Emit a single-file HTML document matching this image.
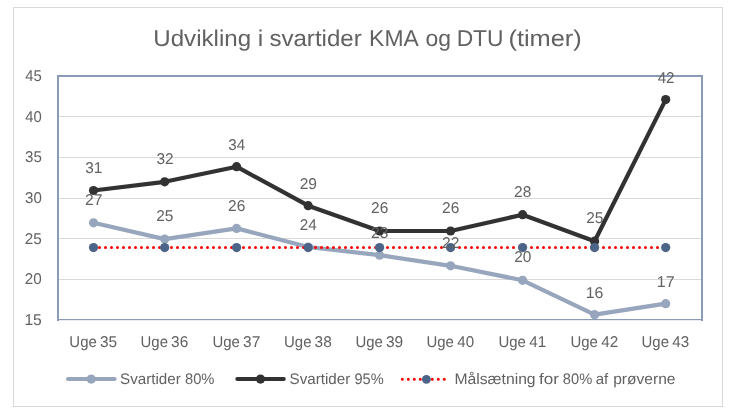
<!DOCTYPE html>
<html><head><meta charset="utf-8"><title>Udvikling i svartider</title>
<style>
html,body{margin:0;padding:0;background:#fff;}
svg{display:block;font-family:"Liberation Sans",sans-serif;}
text{fill:#626262;text-rendering:geometricPrecision;}
</style></head><body>
<svg width="735" height="418" viewBox="0 0 735 418">
<rect x="0" y="0" width="735" height="418" fill="#fff"/>
<rect x="13.5" y="7.5" width="709" height="399" fill="none" stroke="#d9d9d9" stroke-width="1"/>

<line x1="59" y1="116.5" x2="701" y2="116.5" stroke="#d9d9d9" stroke-width="1"/>
<line x1="59" y1="157.5" x2="701" y2="157.5" stroke="#d9d9d9" stroke-width="1"/>
<line x1="59" y1="198.5" x2="701" y2="198.5" stroke="#d9d9d9" stroke-width="1"/>
<line x1="59" y1="238.5" x2="701" y2="238.5" stroke="#d9d9d9" stroke-width="1"/>
<line x1="59" y1="279.5" x2="701" y2="279.5" stroke="#d9d9d9" stroke-width="1"/>
<rect x="57" y="75" width="646" height="2" fill="#8a9cb5"/>
<rect x="57" y="75" width="2" height="246" fill="#8a9cb5"/>
<rect x="701" y="75" width="2" height="246" fill="#8a9cb5"/>
<rect x="57" y="319" width="646" height="1.2" fill="#8a9cb5"/>
<text x="25.27" y="81.10" font-size="15.6" textLength="16.54" lengthAdjust="spacingAndGlyphs">45</text>
<text x="25.27" y="121.70" font-size="15.6" textLength="16.49" lengthAdjust="spacingAndGlyphs">40</text>
<text x="25.03" y="162.30" font-size="15.6" textLength="16.80" lengthAdjust="spacingAndGlyphs">35</text>
<text x="25.03" y="202.90" font-size="15.6" textLength="16.75" lengthAdjust="spacingAndGlyphs">30</text>
<text x="24.84" y="243.50" font-size="15.6" textLength="17.00" lengthAdjust="spacingAndGlyphs">25</text>
<text x="24.84" y="284.10" font-size="15.6" textLength="16.95" lengthAdjust="spacingAndGlyphs">20</text>
<text x="24.41" y="324.70" font-size="15.6" textLength="17.44" lengthAdjust="spacingAndGlyphs">15</text>
<text x="69.35" y="347.40" font-size="15.6" textLength="27.42" lengthAdjust="spacingAndGlyphs">Uge</text>
<text x="99.92" y="347.40" font-size="15.6" textLength="17.12" lengthAdjust="spacingAndGlyphs">35</text>
<text x="140.55" y="347.40" font-size="15.6" textLength="27.42" lengthAdjust="spacingAndGlyphs">Uge</text>
<text x="171.11" y="347.40" font-size="15.6" textLength="17.15" lengthAdjust="spacingAndGlyphs">36</text>
<text x="212.45" y="347.40" font-size="15.6" textLength="27.42" lengthAdjust="spacingAndGlyphs">Uge</text>
<text x="243.01" y="347.40" font-size="15.6" textLength="17.27" lengthAdjust="spacingAndGlyphs">37</text>
<text x="284.05" y="347.40" font-size="15.6" textLength="27.42" lengthAdjust="spacingAndGlyphs">Uge</text>
<text x="314.61" y="347.40" font-size="15.6" textLength="17.15" lengthAdjust="spacingAndGlyphs">38</text>
<text x="355.45" y="347.40" font-size="15.6" textLength="27.42" lengthAdjust="spacingAndGlyphs">Uge</text>
<text x="386.01" y="347.40" font-size="15.6" textLength="17.22" lengthAdjust="spacingAndGlyphs">39</text>
<text x="426.45" y="347.40" font-size="15.6" textLength="27.42" lengthAdjust="spacingAndGlyphs">Uge</text>
<text x="457.27" y="347.40" font-size="15.6" textLength="16.81" lengthAdjust="spacingAndGlyphs">40</text>
<text x="498.45" y="347.40" font-size="15.6" textLength="27.42" lengthAdjust="spacingAndGlyphs">Uge</text>
<text x="529.26" y="347.40" font-size="15.6" textLength="16.97" lengthAdjust="spacingAndGlyphs">41</text>
<text x="570.45" y="347.40" font-size="15.6" textLength="27.42" lengthAdjust="spacingAndGlyphs">Uge</text>
<text x="601.26" y="347.40" font-size="15.6" textLength="17.01" lengthAdjust="spacingAndGlyphs">42</text>
<text x="641.55" y="347.40" font-size="15.6" textLength="27.42" lengthAdjust="spacingAndGlyphs">Uge</text>
<text x="672.37" y="347.40" font-size="15.6" textLength="16.89" lengthAdjust="spacingAndGlyphs">43</text>
<polyline points="93.5,222.8 164.7,239.1 236.6,228.4 308.2,247.0 379.6,255.2 450.6,265.8 522.6,280.3 594.6,314.7 665.7,303.7" fill="none" stroke="#97a6bc" stroke-width="4.2" stroke-linejoin="round" stroke-linecap="round"/>
<circle cx="93.5" cy="222.8" r="4.6" fill="#97a6bc"/>
<circle cx="164.7" cy="239.1" r="4.6" fill="#97a6bc"/>
<circle cx="236.6" cy="228.4" r="4.6" fill="#97a6bc"/>
<circle cx="308.2" cy="247.0" r="4.6" fill="#97a6bc"/>
<circle cx="379.6" cy="255.2" r="4.6" fill="#97a6bc"/>
<circle cx="450.6" cy="265.8" r="4.6" fill="#97a6bc"/>
<circle cx="522.6" cy="280.3" r="4.6" fill="#97a6bc"/>
<circle cx="594.6" cy="314.7" r="4.6" fill="#97a6bc"/>
<circle cx="665.7" cy="303.7" r="4.6" fill="#97a6bc"/>
<polyline points="93.5,190.5 164.7,181.8 236.6,166.7 308.2,205.7 379.6,231.0 450.6,231.0 522.6,214.7 594.6,241.2 665.7,99.6" fill="none" stroke="#323232" stroke-width="4.2" stroke-linejoin="round" stroke-linecap="round"/>
<circle cx="93.5" cy="190.5" r="4.6" fill="#323232"/>
<circle cx="164.7" cy="181.8" r="4.6" fill="#323232"/>
<circle cx="236.6" cy="166.7" r="4.6" fill="#323232"/>
<circle cx="308.2" cy="205.7" r="4.6" fill="#323232"/>
<circle cx="379.6" cy="231.0" r="4.6" fill="#323232"/>
<circle cx="450.6" cy="231.0" r="4.6" fill="#323232"/>
<circle cx="522.6" cy="214.7" r="4.6" fill="#323232"/>
<circle cx="594.6" cy="241.2" r="4.6" fill="#323232"/>
<circle cx="665.7" cy="99.6" r="4.6" fill="#323232"/>
<line x1="93.5" y1="247.6" x2="666" y2="247.6" stroke="#ff0000" stroke-width="3" stroke-linecap="round" stroke-dasharray="0 6"/>
<circle cx="93.5" cy="247.6" r="4.6" fill="#4c6487"/>
<circle cx="164.7" cy="247.6" r="4.6" fill="#4c6487"/>
<circle cx="236.6" cy="247.6" r="4.6" fill="#4c6487"/>
<circle cx="308.2" cy="247.6" r="4.6" fill="#4c6487"/>
<circle cx="379.6" cy="247.6" r="4.6" fill="#4c6487"/>
<circle cx="450.6" cy="247.6" r="4.6" fill="#4c6487"/>
<circle cx="522.6" cy="247.6" r="4.6" fill="#4c6487"/>
<circle cx="594.6" cy="247.6" r="4.6" fill="#4c6487"/>
<circle cx="665.7" cy="247.6" r="4.6" fill="#4c6487"/>
<text x="85.21" y="173.20" font-size="15.6" textLength="17.13" lengthAdjust="spacingAndGlyphs">31</text>
<text x="156.41" y="163.60" font-size="15.6" textLength="17.16" lengthAdjust="spacingAndGlyphs">32</text>
<text x="228.33" y="149.60" font-size="15.6" textLength="16.82" lengthAdjust="spacingAndGlyphs">34</text>
<text x="299.72" y="188.90" font-size="15.6" textLength="17.31" lengthAdjust="spacingAndGlyphs">29</text>
<text x="371.12" y="212.80" font-size="15.6" textLength="17.25" lengthAdjust="spacingAndGlyphs">26</text>
<text x="442.12" y="212.80" font-size="15.6" textLength="17.25" lengthAdjust="spacingAndGlyphs">26</text>
<text x="514.12" y="197.40" font-size="15.6" textLength="17.25" lengthAdjust="spacingAndGlyphs">28</text>
<text x="586.13" y="223.00" font-size="15.6" textLength="17.21" lengthAdjust="spacingAndGlyphs">25</text>
<text x="657.67" y="82.60" font-size="15.6" textLength="16.90" lengthAdjust="spacingAndGlyphs">42</text>
<text x="85.02" y="205.30" font-size="15.6" textLength="17.37" lengthAdjust="spacingAndGlyphs">27</text>
<text x="156.23" y="221.10" font-size="15.6" textLength="17.21" lengthAdjust="spacingAndGlyphs">25</text>
<text x="228.12" y="211.00" font-size="15.6" textLength="17.25" lengthAdjust="spacingAndGlyphs">26</text>
<text x="299.74" y="229.60" font-size="15.6" textLength="17.01" lengthAdjust="spacingAndGlyphs">24</text>
<text x="371.12" y="237.80" font-size="15.6" textLength="17.25" lengthAdjust="spacingAndGlyphs">23</text>
<text x="442.12" y="248.40" font-size="15.6" textLength="17.37" lengthAdjust="spacingAndGlyphs">22</text>
<text x="514.13" y="261.90" font-size="15.6" textLength="17.16" lengthAdjust="spacingAndGlyphs">20</text>
<text x="585.69" y="297.90" font-size="15.6" textLength="17.70" lengthAdjust="spacingAndGlyphs">16</text>
<text x="656.78" y="286.70" font-size="15.6" textLength="17.82" lengthAdjust="spacingAndGlyphs">17</text>
<text x="153.35" y="45.60" font-size="22.8" textLength="97.70" lengthAdjust="spacingAndGlyphs">Udvikling</text>
<text x="257.87" y="45.60" font-size="22.8" textLength="5.49" lengthAdjust="spacingAndGlyphs">i</text>
<text x="269.45" y="45.60" font-size="22.8" textLength="92.25" lengthAdjust="spacingAndGlyphs">svartider</text>
<text x="369.12" y="45.60" font-size="22.8" textLength="49.62" lengthAdjust="spacingAndGlyphs">KMA</text>
<text x="425.54" y="45.60" font-size="22.8" textLength="25.54" lengthAdjust="spacingAndGlyphs">og</text>
<text x="456.63" y="45.60" font-size="22.8" textLength="46.91" lengthAdjust="spacingAndGlyphs">DTU</text>
<text x="508.43" y="45.60" font-size="22.8" textLength="73.35" lengthAdjust="spacingAndGlyphs">(timer)</text>
<line x1="68" y1="379.1" x2="114.6" y2="379.1" stroke="#97a6bc" stroke-width="4" stroke-linecap="round"/>
<circle cx="91.2" cy="379.1" r="4.6" fill="#97a6bc"/>
<text x="120.02" y="383.70" font-size="15.3" textLength="60.73" lengthAdjust="spacingAndGlyphs">Svartider</text>
<text x="184.97" y="383.70" font-size="15.3" textLength="29.45" lengthAdjust="spacingAndGlyphs">80%</text>
<line x1="237.3" y1="379.1" x2="283.8" y2="379.1" stroke="#323232" stroke-width="4" stroke-linecap="round"/>
<circle cx="260.5" cy="379.1" r="4.6" fill="#323232"/>
<text x="289.52" y="383.70" font-size="15.3" textLength="60.73" lengthAdjust="spacingAndGlyphs">Svartider</text>
<text x="354.43" y="383.70" font-size="15.3" textLength="29.29" lengthAdjust="spacingAndGlyphs">95%</text>
<line x1="402.3" y1="379.3" x2="445" y2="379.3" stroke="#ff0000" stroke-width="3" stroke-linecap="round" stroke-dasharray="0 6"/>
<circle cx="426.4" cy="379.3" r="4.4" fill="#4c6487"/>
<text x="454.51" y="383.70" font-size="15.3" textLength="81.09" lengthAdjust="spacingAndGlyphs">Målsætning</text>
<text x="539.06" y="383.70" font-size="15.3" textLength="19.91" lengthAdjust="spacingAndGlyphs">for</text>
<text x="562.87" y="383.70" font-size="15.3" textLength="29.35" lengthAdjust="spacingAndGlyphs">80%</text>
<text x="595.77" y="383.70" font-size="15.3" textLength="12.50" lengthAdjust="spacingAndGlyphs">af</text>
<text x="613.20" y="383.70" font-size="15.3" textLength="62.29" lengthAdjust="spacingAndGlyphs">prøverne</text>
</svg></body></html>
